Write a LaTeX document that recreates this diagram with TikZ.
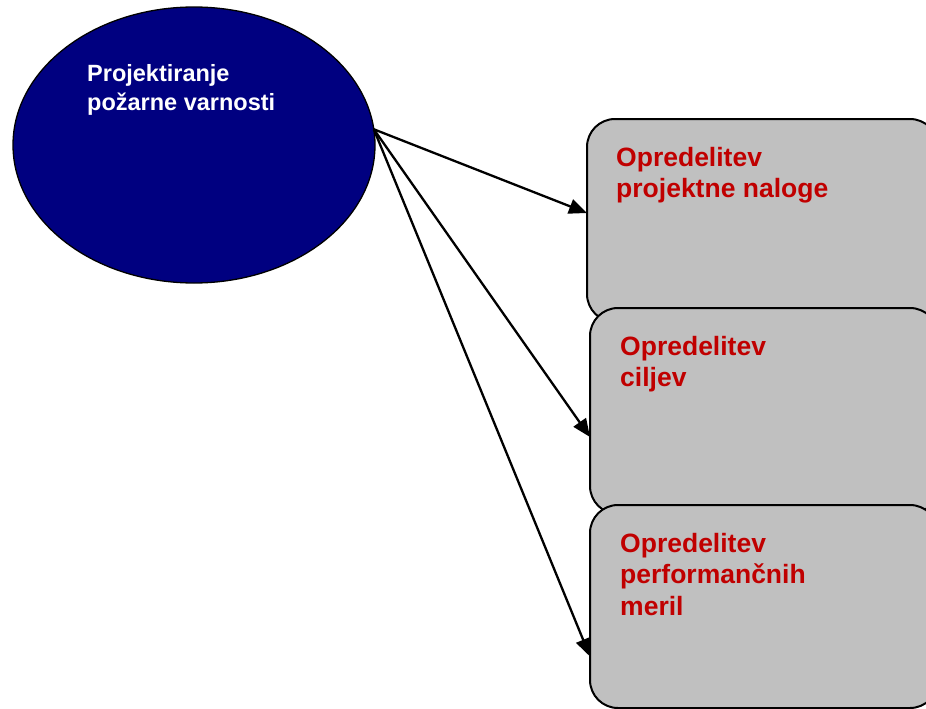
\documentclass[tikz,border=0pt]{standalone}
\usepackage{fontspec}
\setmainfont{Liberation Sans}
\usepackage{xcolor}
\usepackage{tikz}
\usetikzlibrary{shapes.geometric,arrows.meta,positioning}
\definecolor{projblue}{RGB}{0,0,128}
\definecolor{boxgray}{RGB}{192,192,192}
\definecolor{taskred}{RGB}{192,0,0}

\begin{document}
\begin{tikzpicture}[x=1pt,y=-1pt,
    taskbox/.style={draw,line width=2pt,fill=boxgray,rounded corners=28pt,inner sep=0pt,outer sep=0pt,anchor=north west},
    tasktext/.style={text=taskred,font=\fontsize{26.5}{31.5}\selectfont\bfseries,align=left,anchor=north west,inner sep=0pt},
    arr/.style={line width=2.3pt,-{Triangle[length=18pt,width=15pt]}}]
    \clip (0,0) rectangle (926,709);
    % main ellipse
    \node[ellipse,draw,line width=1.3pt,fill=projblue,minimum width=362pt,minimum height=276pt,inner sep=0pt,outer sep=0pt] (proj) at (194,145) {};
    \node[anchor=north west,inner sep=0pt,align=left,text=white,font=\fontsize{23.5}{29}\selectfont\bfseries] (projtxt) at (87,64) {Projektiranje\\požarne varnosti};
    % boxes
    \node[taskbox,minimum width=351pt,minimum height=203pt] (box1) at (587,119) {};
    \node[taskbox,minimum width=348pt,minimum height=206pt] (box2) at (590,308) {};
    \node[taskbox,minimum width=348pt,minimum height=203pt] (box3) at (590,505) {};
    \node[tasktext] (txt1) at ([shift={(29,28)}]box1.north west) {Opredelitev\\projektne naloge};
    \node[tasktext] (txt2) at ([shift={(30,28)}]box2.north west) {Opredelitev\\ciljev};
    \node[tasktext] (txt3) at ([shift={(30,28)}]box3.north west) {Opredelitev\\performančnih\\meril};
    % arrows
    \draw[arr] (proj.5) -- ([yshift=7.5pt]box1.west);
    \draw[arr] (proj.5) -- ([yshift=-26pt]box2.west);
    \draw[arr] (proj.5) -- ([yshift=-50pt]box3.west);
\end{tikzpicture}
\end{document}
